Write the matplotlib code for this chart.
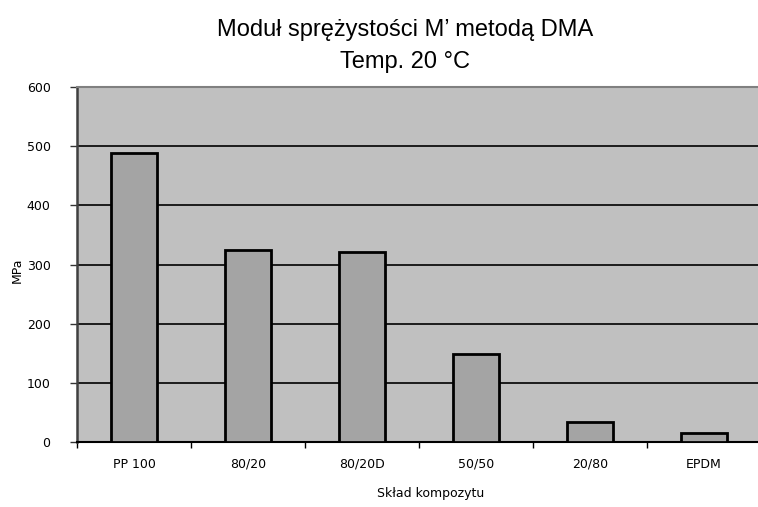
import numpy as np
import matplotlib.pyplot as plt

plt.rcParams['font.family'] = ['Liberation Sans', 'DejaVu Sans']

# --- Data ---
categories = ['PP 100', '80/20', '80/20D', '50/50', '20/80', 'EPDM']
modulus = [488, 324, 321, 148, 34, 15]
y_ticks = [0, 100, 200, 300, 400, 500, 600]

small = dict(fontsize=9, family=['DejaVu Sans'])

# --- Figure ---
fig = plt.figure(figsize=(7.58, 5.07), dpi=100)
fig.set_facecolor('white')
ax = fig.add_axes([77 / 758, 65 / 507, 684 / 758, 355 / 507])
ax.set_facecolor('#c0c0c0')

x = np.arange(len(categories))
ax.bar(x, modulus, width=0.41, color='#a4a4a4', edgecolor='black',
       linewidth=2, zorder=3)

ax.set_xlim(-0.5, len(categories) - 0.5)
ax.set_ylim(0, 600)
ax.set_yticks(y_ticks)
ax.set_yticklabels([str(v) for v in y_ticks], **small)
ax.yaxis.grid(True, color='black', linewidth=1.2, zorder=1)
ax.set_axisbelow(True)

# category labels between boundary ticks
ax.set_xticks(np.arange(len(categories) + 1) - 0.5)
ax.set_xticklabels([])
ax.tick_params(axis='x', direction='out', length=4, width=1, color='black')
ax.tick_params(axis='y', direction='out', length=5, width=1, color='#333333', pad=14)
for i, c in enumerate(categories):
    ax.text(i, -38, c, ha='center', va='center', **small)

ax.spines['right'].set_visible(False)
ax.spines['top'].set_color('#808080')
ax.spines['top'].set_linewidth(1.5)
ax.spines['left'].set_color('#404040')
ax.spines['left'].set_linewidth(1.8)
ax.spines['bottom'].set_color('black')
ax.spines['bottom'].set_linewidth(1.5)

fig.text(17 / 758, 1 - 270 / 507, 'MPa', rotation=90, ha='center', va='center', **small)
fig.text(431 / 758, 1 - 494 / 507, 'Skład kompozytu', ha='center', va='center', **small)
title_font = ['Liberation Sans Narrow', 'Liberation Sans']
fig.text(405 / 758, 1 - 30 / 507, 'Moduł sprężystości M\u2019 metodą DMA', ha='center',
         va='center', fontsize=17, family=title_font)
fig.text(405 / 758, 1 - 62 / 507, 'Temp. 20 \u00b0C', ha='center', va='center',
         fontsize=17, family=title_font)

fig.savefig('out.png', dpi=100)
